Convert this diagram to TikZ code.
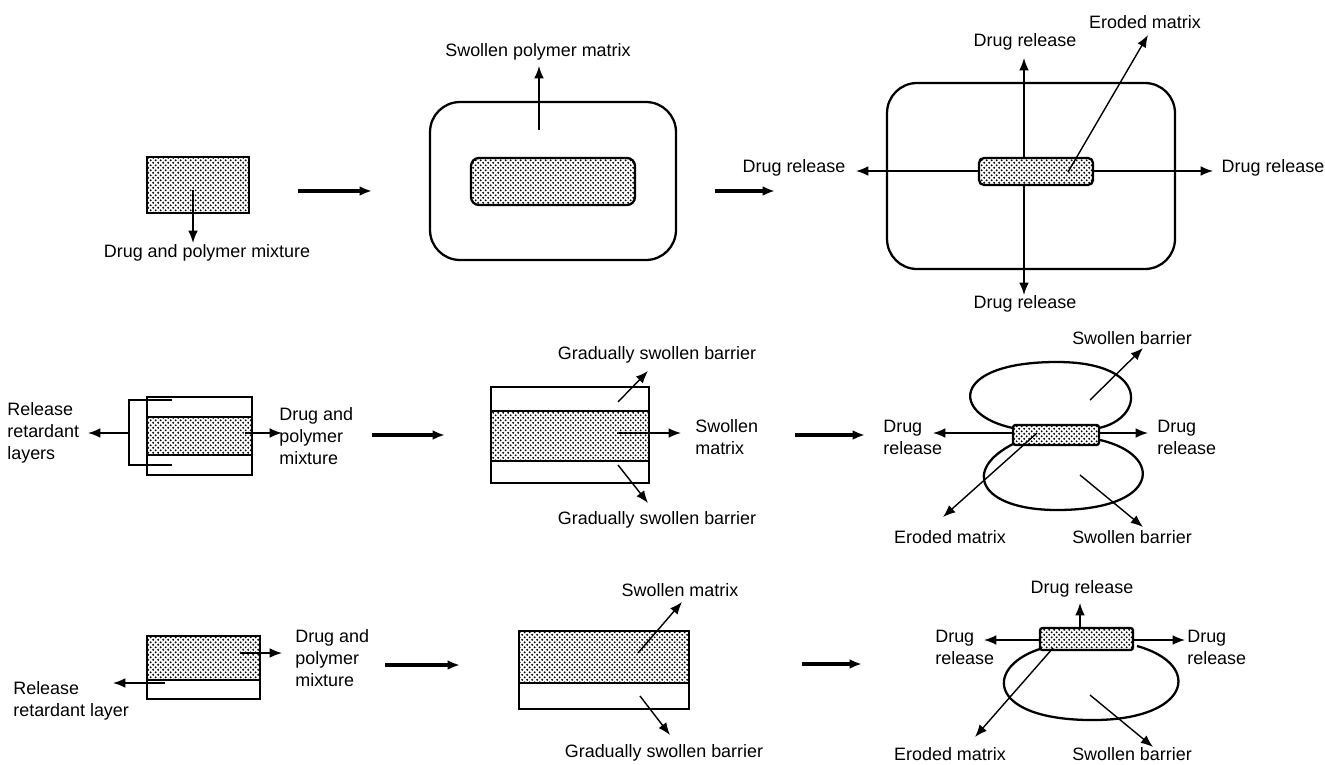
\documentclass[tikz,border=0pt]{standalone}
\usepackage{fontspec}
\setmainfont{Liberation Sans}
\usetikzlibrary{arrows.meta, patterns, positioning, calc}

\pgfdeclarepatternformonly{densedots}{\pgfpointorigin}{\pgfpoint{2.8pt}{2.8pt}}{\pgfpoint{2.8pt}{2.8pt}}{
  \pgfpathcircle{\pgfpoint{0.7pt}{0.7pt}}{0.6pt}
  \pgfpathcircle{\pgfpoint{2.1pt}{2.1pt}}{0.6pt}
  \pgfusepath{fill}}

\begin{document}
\begin{tikzpicture}[
    x=0.02cm, y=-0.02cm,
    >={Latex[length=7pt,width=5.5pt]},
    core/.style={rectangle, draw, line width=1.3pt, preaction={fill=white}, pattern=densedots, inner sep=0pt},
    shell/.style={rectangle, draw, line width=1.3pt, rounded corners=0.6cm, inner sep=0pt},
    tablet/.style={rectangle, draw, line width=1.3pt, inner sep=0pt},
    lobe/.style={draw, line width=1.3pt},
    pointer/.style={->, line width=0.8pt},
    stagearrow/.style={->, line width=1.8pt},
    lbl/.style={font=\fontsize{10.2}{12.5}\selectfont, inner sep=0pt, align=center},
    lbll/.style={lbl, align=left, anchor=west}
]
\useasboundingbox (0,0) rectangle (1325,764);

% ===== ROW 1: MATRIX TABLET =====
\node[core, minimum width=2.04cm, minimum height=1.12cm] (mixA) at (198,185) {};
\coordinate (mixAtip) at (193,243);
\draw[pointer] (193,190) -- (mixAtip);
\node[lbl] (mixAlbl) at (207,253) {Drug and polymer mixture};

\coordinate (stA1) at (298,191);
\coordinate (stA2) at (372,191);
\draw[stagearrow] (stA1) -- (stA2);

% swollen matrix
\node[shell, minimum width=4.92cm, minimum height=3.16cm] (swellA) at (553,181) {};
\node[core, rounded corners=0.16cm, minimum width=3.28cm, minimum height=0.94cm] (coreA) at (553,181.5) {};
\coordinate (swellAtip) at (539,66);
\draw[pointer] (539,130) -- (swellAtip);
\node[lbl] (swellAlbl) at (538,52) {Swollen polymer matrix};

\coordinate (stA3) at (715,191);
\coordinate (stA4) at (775,191);
\draw[stagearrow] (stA3) -- (stA4);

% eroded matrix
\node[shell, minimum width=5.76cm, minimum height=3.72cm] (erodeA) at (1031,176) {};
\coordinate (relAup) at (1024,58);
\coordinate (relAdown) at (1024,295);
\coordinate (relAleft) at (856,171);
\coordinate (relAright) at (1213,171);
\draw[pointer] (1024,171) -- (relAup);
\draw[pointer] (1024,171) -- (relAdown);
\draw[pointer] (1036,171) -- (relAleft);
\draw[pointer] (1036,171) -- (relAright);
\node[core, rounded corners=0.1cm, minimum width=2.28cm, minimum height=0.54cm] (ecoreA) at (1036,171.5) {};
\coordinate (ecoreAtip) at (1148,35);
\draw[pointer] (1068,172) -- (ecoreAtip);
\node[lbl] (relAleftlbl) at (794,168) {Drug release};
\node[lbl] (relArightlbl) at (1273,168) {Drug release};
\node[lbl] (relAuplbl) at (1025,42) {Drug release};
\node[lbl] (relAdownlbl) at (1025,304) {Drug release};
\node[lbl] (ecoreAlbl) at (1145,22) {Eroded matrix};

% ===== ROW 2: THREE-LAYER TABLET =====
\node[tablet, minimum width=2.1cm, minimum height=1.56cm] (triB) at (199.5,436) {};
\node[core, minimum width=2.1cm, minimum height=0.76cm] (coreB) at (199.5,436) {};
\draw[line width=0.8pt] (172,400) -- (129,400) -- (129,465) -- (172,465);
\coordinate (barBtip) at (88,433);
\draw[pointer] (129,433) -- (barBtip);
\node[lbll] (barBlbl) at (7,433) {Release\\retardant\\layers};
\coordinate (coreBtip) at (282,433);
\draw[pointer] (245,433) -- (coreBtip);
\node[lbll] (coreBlbl) at (279,436) {Drug and\\polymer\\mixture};

\coordinate (stB1) at (372,435);
\coordinate (stB2) at (445,435);
\draw[stagearrow] (stB1) -- (stB2);

% swollen three-layer tablet
\node[tablet, minimum width=3.16cm, minimum height=1.92cm] (swellB) at (570,435) {};
\node[core, minimum width=3.16cm, minimum height=1cm] (score) at (570,436) {};
\coordinate (sbarBup) at (648,371);
\coordinate (sbarBdown) at (648,503);
\coordinate (scoreBtip) at (681,433);
\draw[pointer] (618,402) -- (sbarBup);
\draw[pointer] (617,433) -- (scoreBtip);
\draw[pointer] (618,465) -- (sbarBdown);
\node[lbl] (sbarBuplbl) at (657,355) {Gradually swollen barrier};
\node[lbll] (scoreBlbl) at (695,437) {Swollen\\matrix};
\node[lbl] (sbarBdownlbl) at (657,520) {Gradually swollen barrier};

\coordinate (stB3) at (795,435);
\coordinate (stB4) at (865,435);
\draw[stagearrow] (stB3) -- (stB4);

% eroded three-layer tablet
\draw[lobe] (1013,428) .. controls (950,415) and (950,362) .. (1057,362)
    .. controls (1150,362) and (1145,418) .. (1099,428);
\draw[lobe] (1015,443) .. controls (960,470) and (980,510) .. (1057,510)
    .. controls (1160,510) and (1165,455) .. (1100,440);
\node[core, rounded corners=0.05cm, minimum width=1.72cm, minimum height=0.4cm] (ecoreB) at (1056,435) {};
\coordinate (relBleft) at (933,433);
\coordinate (relBright) at (1148,433);
\draw[pointer] (ecoreB.west |- 0,433) -- (relBleft);
\draw[pointer] (ecoreB.east |- 0,433) -- (relBright);
\coordinate (ebarBup) at (1143,348);
\coordinate (ebarBdown) at (1143,527);
\coordinate (ecoreBtip) at (943,517);
\draw[pointer] (1090,400) -- (ebarBup);
\draw[pointer] (1037,433) -- (ecoreBtip);
\draw[pointer] (1080,475) -- (ebarBdown);
\node[lbll] (relBleftlbl) at (883,437.5) {Drug\\release};
\node[lbll] (relBrightlbl) at (1157,437.5) {Drug\\release};
\node[lbl] (ebarBuplbl) at (1132,338) {Swollen barrier};
\node[lbl] (ecoreBlbl) at (950,537) {Eroded matrix};
\node[lbl] (ebarBdownlbl) at (1132,537) {Swollen barrier};

% ===== ROW 3: TWO-LAYER TABLET =====
\node[tablet, minimum width=2.26cm, minimum height=1.26cm] (biC) at (203.5,667.5) {};
\node[core, minimum width=2.26cm, minimum height=0.88cm] (coreC) at (203.5,658) {};
\coordinate (coreCtip) at (282,653);
\draw[pointer] (240,653) -- (coreCtip);
\node[lbll] (coreClbl) at (295,658) {Drug and\\polymer\\mixture};
\coordinate (barCtip) at (113,683);
\draw[pointer] (165,683) -- (barCtip);
\node[lbll] (barClbl) at (13,701) {Release\\retardant layer};

\coordinate (stC1) at (385,665);
\coordinate (stC2) at (460,665);
\draw[stagearrow] (stC1) -- (stC2);

% swollen two-layer tablet
\node[tablet, minimum width=3.4cm, minimum height=1.56cm] (swellC) at (604,670) {};
\node[core, minimum width=3.4cm, minimum height=1.04cm] (scoreC) at (604,657) {};
\coordinate (scoreCtip) at (682,602);
\coordinate (sbarCtip) at (670,735);
\draw[pointer] (638,653) -- (scoreCtip);
\draw[pointer] (640,696) -- (sbarCtip);
\node[lbl] (scoreClbl) at (680,590) {Swollen matrix};
\node[lbl] (sbarClbl) at (664,753) {Gradually swollen barrier};

\coordinate (stC3) at (802,664);
\coordinate (stC4) at (862,664);
\draw[stagearrow] (stC3) -- (stC4);

% eroded two-layer tablet
\draw[lobe] (1043,648) .. controls (985,665) and (985,718) .. (1087,720)
    .. controls (1190,722) and (1205,665) .. (1137,646);
\node[core, rounded corners=0.05cm, minimum width=1.86cm, minimum height=0.44cm] (ecoreC) at (1086.5,639) {};
\coordinate (relCup) at (1080,603);
\coordinate (relCleft) at (984,640);
\coordinate (relCright) at (1185,640);
\draw[pointer] (ecoreC.north -| 1080,0) -- (relCup);
\draw[pointer] (ecoreC.west |- 0,640) -- (relCleft);
\draw[pointer] (ecoreC.east |- 0,640) -- (relCright);
\coordinate (ecoreCtip) at (975,737);
\coordinate (ebarCtip) at (1153,747);
\draw[pointer] (1053,648) -- (ecoreCtip);
\draw[pointer] (1090,695) -- (ebarCtip);
\node[lbl] (relCuplbl) at (1082,589) {Drug release};
\node[lbll] (relCleftlbl) at (935,647) {Drug\\release};
\node[lbll] (relCrightlbl) at (1187,647) {Drug\\release};
\node[lbl] (ecoreClbl) at (950,754) {Eroded matrix};
\node[lbl] (ebarClbl) at (1132,754) {Swollen barrier};

\end{tikzpicture}
\end{document}
